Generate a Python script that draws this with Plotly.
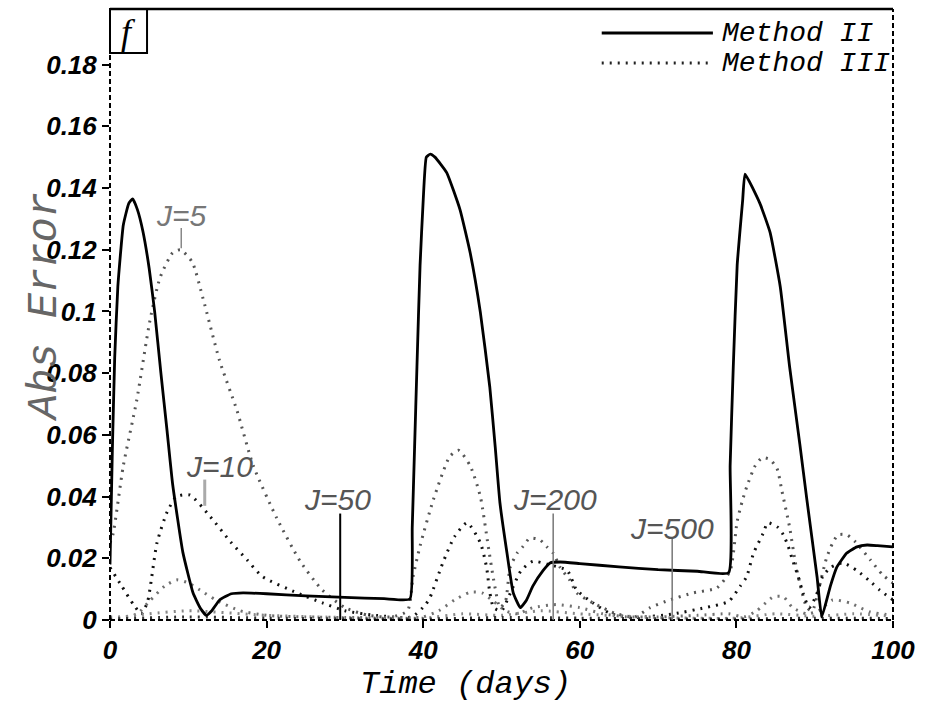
import plotly.graph_objects as go

# ---------------- data ----------------
t_m2 = [0, 0.3, 0.6, 1.0, 1.7, 2.4, 2.9, 3.5, 4.2, 5.0, 5.7, 6.5, 7.3, 8.0, 9.3, 10.6, 11.5, 12.3, 13.0, 14.0,
        15.5, 17, 20, 25, 30, 35, 38.3, 38.6, 38.9, 39.2, 39.6, 40.0, 40.4, 40.9, 41.5, 43.0, 44.7, 46.0, 47.3,
        48.5, 49.2, 49.8, 50.7, 51.5, 52.4, 53.2, 54.0, 55.3, 56.2, 57.5, 60, 65, 70, 75, 79.0, 79.2, 79.6, 80.1,
        80.8, 81.1, 83.0, 84.3, 85.6, 86.8, 88.1, 89.0, 90.3, 90.9, 92.0, 92.8, 94.1, 95.4, 96.7, 98, 100]
y_m2 = [0.018, 0.055, 0.085, 0.108, 0.128, 0.135, 0.1365, 0.133, 0.126, 0.114, 0.100, 0.080, 0.061, 0.044, 0.022,
        0.0088, 0.004, 0.0015, 0.003, 0.0065, 0.0085, 0.0088, 0.0085, 0.0078, 0.0073, 0.0069, 0.0068, 0.030, 0.056,
        0.082, 0.115, 0.136, 0.150, 0.151, 0.150, 0.145, 0.133, 0.119, 0.0997, 0.0756, 0.056, 0.038, 0.0217, 0.0088,
        0.004, 0.0065, 0.011, 0.016, 0.0185, 0.0188, 0.0183, 0.0172, 0.0163, 0.0158, 0.0153, 0.050, 0.082, 0.115,
        0.136, 0.1445, 0.135, 0.1256, 0.108, 0.082, 0.057, 0.039, 0.014, 0.001, 0.011, 0.017, 0.0217, 0.0237, 0.0243,
        0.0241, 0.0237]

t_j5 = [0, 0.4, 1.7, 3.4, 5.1, 6.4, 8, 9, 10.5, 11.9, 14, 16.2, 18.3, 21.3, 24.3, 27, 30, 33, 36, 38, 38.7, 39.6,
        41.3, 43.4, 44.5, 46, 47.3, 48.3, 49, 49.8, 50.5, 51.1, 52, 52.7, 53.6, 54.9, 55.8, 56.6, 57.5, 58.7, 59.6,
        61.7, 64.7, 67, 69, 71.5, 74.5, 77.5, 79.2, 80.1, 80.8, 81.3, 82.4, 83.3, 84.3, 85.2, 85.8, 86.8, 87.5, 88.1,
        89, 89.7, 90.5, 91.5, 92.3, 93, 94.1, 95.2, 97.1, 98.7, 100]
y_j5 = [0.025, 0.028, 0.05, 0.071, 0.097, 0.111, 0.119, 0.12, 0.116, 0.104, 0.084, 0.068, 0.05, 0.033, 0.019, 0.01,
        0.004, 0.0015, 0.001, 0.003, 0.014, 0.024, 0.039, 0.053, 0.055, 0.05, 0.04, 0.024, 0.013, 0.004, 0.006, 0.017,
        0.0217, 0.0237, 0.0265, 0.026, 0.0237, 0.0217, 0.017, 0.013, 0.0088, 0.0055, 0.002, 0.001, 0.004, 0.0065,
        0.0088, 0.0104, 0.016, 0.032, 0.039, 0.043, 0.05, 0.0526, 0.052, 0.049, 0.042, 0.030, 0.019, 0.012, 0.004,
        0.003, 0.01, 0.02, 0.025, 0.0276, 0.0276, 0.0253, 0.0195, 0.0146, 0.012]

t_j10 = [0, 1.5, 3, 4, 4.8, 6, 7.3, 8.5, 10.2, 12.8, 15.5, 17.5, 19.5, 23.9, 27.2, 30, 34, 38.5, 40.3, 40.9, 42.5,
         44, 45.6, 47.3, 48.1, 48.5, 49, 50, 51, 52.5, 54, 56, 58.4, 59.6, 61.7, 64, 67, 72, 76, 79, 80.5, 81.3,
         82.2, 83.4, 84, 85.3, 86, 86.6, 87.1, 87.9, 88.5, 89.3, 90.2, 91, 92, 93.6, 95.4, 97.3, 98.3, 100]
y_j10 = [0.017, 0.011, 0.005, 0.002, 0.006, 0.025, 0.035, 0.04, 0.0405, 0.0335, 0.025, 0.0195, 0.014, 0.0088,
         0.0055, 0.003, 0.0015, 0.001, 0.005, 0.0075, 0.0185, 0.027, 0.0315, 0.025, 0.017, 0.009, 0.004, 0.003,
         0.008, 0.016, 0.019, 0.018, 0.016, 0.0097, 0.0055, 0.002, 0.0008, 0.002, 0.004, 0.006, 0.011, 0.014,
         0.0217, 0.028, 0.0315, 0.030, 0.0276, 0.024, 0.020, 0.014, 0.0088, 0.004, 0.008, 0.014, 0.017, 0.0185,
         0.016, 0.012, 0.0097, 0.0065]

t_j50 = [0, 2, 3.5, 5, 7, 8.5, 10, 11.5, 13.5, 16.6, 20, 25, 30, 35, 40, 42, 44, 46, 47.5, 49, 50.5, 52, 54, 57,
         60, 63, 66, 70, 75, 79, 81, 82.6, 84.7, 86, 87.2, 89, 90.5, 92.3, 94.5, 95.8, 97.1, 100]
y_j50 = [0.001, 0.001, 0.002, 0.006, 0.011, 0.013, 0.012, 0.0097, 0.0065, 0.003, 0.0015, 0.001, 0.0008, 0.0008,
         0.001, 0.003, 0.0065, 0.009, 0.0088, 0.006, 0.003, 0.002, 0.004, 0.005, 0.004, 0.002, 0.001, 0.001, 0.0015,
         0.002, 0.001, 0.003, 0.0075, 0.0075, 0.004, 0.002, 0.003, 0.0065, 0.0055, 0.004, 0.0026, 0.0015]

t_j200 = [0, 5, 10, 20, 30, 40, 45, 50, 55, 60, 70, 80, 85, 90, 95, 100]
y_j200 = [0.0005, 0.002, 0.003, 0.0015, 0.0008, 0.0006, 0.002, 0.0015, 0.003, 0.002, 0.0008, 0.0006, 0.002,
          0.0012, 0.002, 0.0012]

t_j500 = [0, 10, 20, 30, 40, 50, 60, 70, 80, 90, 100]
y_j500 = [0.0003, 0.001, 0.0006, 0.0004, 0.0003, 0.0008, 0.0006, 0.0004, 0.0003, 0.0006, 0.0005]

j_labels = ["J=5", "J=10", "J=50", "J=200", "J=500"]
j_label_x = [9.1, 14.0, 29.1, 56.8, 71.8]
j_label_y = [0.131, 0.0497, 0.039, 0.039, 0.0295]
j_lead_x = [9.1, 12.1, 29.4, 56.6, 71.8]
j_lead_y0 = [0.1205, 0.037, 0.0, 0.0, 0.0]
j_lead_y1 = [0.127, 0.0455, 0.0345, 0.0345, 0.0265]

x_ticks = [0, 20, 40, 60, 80, 100]
y_ticks = [0, 0.02, 0.04, 0.06, 0.08, 0.1, 0.12, 0.14, 0.16, 0.18]

# ---------------- figure ----------------
fig = go.Figure()

dot_curves = [
    ("J=5", t_j5, y_j5, "#555555"),
    ("J=10", t_j10, y_j10, "#111111"),
    ("J=50", t_j50, y_j50, "#707070"),
    ("J=200", t_j200, y_j200, "#888888"),
    ("J=500", t_j500, y_j500, "#333333"),
]
for name, tx, ty, col in dot_curves:
    fig.add_trace(go.Scatter(x=tx, y=ty, mode="lines", name="Method III " + name,
                             line=dict(color=col, width=3, dash="2px,6px", shape="spline", smoothing=0.6),
                             showlegend=False))

fig.add_trace(go.Scatter(x=t_m2, y=y_m2, mode="lines", name="Method II",
                         line=dict(color="black", width=2.8, shape="spline", smoothing=0.4),
                         showlegend=False))

mono = "Liberation Mono"
shapes = []
# frame
shapes.append(dict(type="line", xref="paper", yref="paper", x0=0, x1=1, y0=1, y1=1,
                   line=dict(color="black", width=2.5)))
shapes.append(dict(type="line", xref="paper", yref="paper", x0=1, x1=1, y0=0, y1=1,
                   line=dict(color="black", width=2, dash="5px,3px")))
shapes.append(dict(type="line", xref="paper", yref="paper", x0=0, x1=0, y0=0, y1=0.93,
                   line=dict(color="black", width=2, dash="5px,3px")))
shapes.append(dict(type="line", xref="paper", yref="paper", x0=0, x1=1, y0=0, y1=0,
                   line=dict(color="black", width=2, dash="5px,3px")))
# f box
shapes.append(dict(type="rect", xref="paper", yref="paper", x0=0, x1=0.0473, y0=0.928, y1=1,
                   line=dict(color="black", width=2)))
# legend samples
shapes.append(dict(type="line", xref="paper", yref="paper", x0=0.628, x1=0.770, y0=0.9607, y1=0.9607,
                   line=dict(color="black", width=2.8)))
shapes.append(dict(type="line", xref="paper", yref="paper", x0=0.628, x1=0.770, y0=0.9116, y1=0.9116,
                   line=dict(color="#222222", width=3, dash="2px,6px")))
# leaders
lead_cols = ["#888888", "#aaaaaa", "black", "#777777", "#777777"]
lead_w = [1.5, 3, 2, 1.5, 1.5]
for i in range(len(j_labels)):
    shapes.append(dict(type="line", xref="x", yref="y", x0=j_lead_x[i], x1=j_lead_x[i],
                       y0=j_lead_y0[i], y1=j_lead_y1[i],
                       line=dict(color=lead_cols[i], width=lead_w[i])))

annotations = []
label_cols = ["#777777", "#555555", "#555555", "#555555", "#555555"]
for i in range(len(j_labels)):
    annotations.append(dict(x=j_label_x[i], y=j_label_y[i], xref="x", yref="y", text=j_labels[i],
                            showarrow=False, xanchor="center", yanchor="middle",
                            font=dict(family="Liberation Sans", size=30, style="italic", color=label_cols[i])))
annotations.append(dict(x=0.0236, y=0.962, xref="paper", yref="paper", text="f", showarrow=False,
                        xanchor="center", yanchor="middle",
                        font=dict(family="Liberation Serif", size=36, style="italic", color="black")))
annotations.append(dict(x=0.779, y=0.9607, xref="paper", yref="paper", text="Method II", showarrow=False,
                        xanchor="left", yanchor="middle",
                        font=dict(family=mono, size=28, style="italic", color="black")))
annotations.append(dict(x=0.779, y=0.9116, xref="paper", yref="paper", text="Method III", showarrow=False,
                        xanchor="left", yanchor="middle",
                        font=dict(family=mono, size=28, style="italic", color="black")))
annotations.append(dict(x=(465 - 110) / 783, y=(620 - 684) / 611, xref="paper", yref="paper",
                        text="Time (days)", showarrow=False, xanchor="center", yanchor="middle", borderpad=0,
                        font=dict(family=mono, size=32, style="italic", color="black")))
annotations.append(dict(x=(45 - 110) / 783, y=(620 - 307) / 611, xref="paper", yref="paper",
                        text="Abs Error", showarrow=False, xanchor="center", yanchor="middle", textangle=-90,
                        font=dict(family=mono, size=42, style="italic", color="#666666")))

tickfont = dict(family="Liberation Sans", size=26, weight="bold", style="italic", color="black")
fig.update_layout(
    width=936, height=702,
    margin=dict(l=110, r=43, t=9, b=82, pad=0),
    plot_bgcolor="white", paper_bgcolor="white",
    shapes=shapes, annotations=annotations,
    xaxis=dict(range=[0, 100], tickvals=x_ticks, ticktext=[str(v) for v in x_ticks],
               showgrid=False, zeroline=False, showline=False,
               ticks="outside", ticklen=7, tickwidth=2, tickcolor="black", tickfont=tickfont),
    yaxis=dict(range=[0, 0.198], tickvals=y_ticks, ticktext=[("%g" % v) for v in y_ticks],
               showgrid=False, zeroline=False, showline=False,
               ticks="outside", ticklen=7, tickwidth=2, tickcolor="black", tickfont=tickfont),
)

fig.write_html("out.html")
